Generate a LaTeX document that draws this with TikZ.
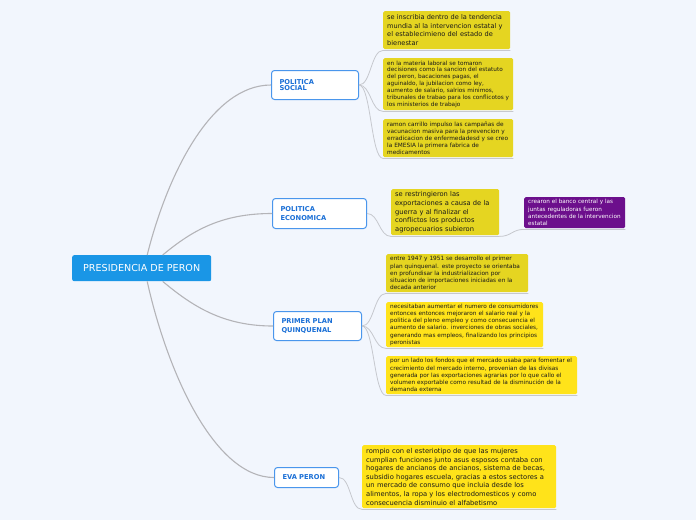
\documentclass[tikz,border=0pt]{standalone}
\usepackage{fontspec}
\setmainfont{DejaVu Sans}
\usetikzlibrary{calc}
\definecolor{bgc}{HTML}{F2F6FD}
\definecolor{rootc}{HTML}{1A96E6}
\definecolor{tborder}{HTML}{4A96EC}
\definecolor{ttext}{HTML}{1A6FD6}
\definecolor{oliveyel}{HTML}{E5D521}
\definecolor{brightyel}{HTML}{FFE31A}
\definecolor{purp}{HTML}{6C0F8C}
\definecolor{linec}{HTML}{B4B4B8}
\definecolor{sublinec}{HTML}{C6C8CE}
\begin{document}
\begin{tikzpicture}[x=1pt,y=-1pt,
  rootbox/.style={fill=rootc, text=white, rounded corners=2pt, anchor=north west,
    minimum width=139pt, minimum height=26pt, inner sep=0pt,
    font=\fontsize{9.6}{11}\selectfont},
  topicbox/.style={draw=tborder, line width=1pt, fill=white, rounded corners=3pt,
    anchor=north west, align=left, inner xsep=8pt, inner ysep=0pt, text=ttext,
    font=\fontsize{6.7}{8.2}\selectfont\bfseries},
  leafbox/.style={fill=oliveyel, rounded corners=1.5pt, anchor=north west, align=left,
    inner xsep=4pt, inner ysep=0pt, text=black!90},
  conn/.style={draw=linec, line width=1.1pt},
  subconn/.style={draw=sublinec, line width=0.8pt}
]
\fill[bgc] (0,0) rectangle (696,520);
\useasboundingbox (0,0) rectangle (696,520);

% root
\node[rootbox] (root) at (72,255) {PRESIDENCIA DE PERON};

% topics
\node[topicbox, minimum width=87pt, minimum height=29pt, text width=71pt] (ps) at (271,70) {POLITICA\\[-1.5pt]SOCIAL};
\node[topicbox, minimum width=94pt, minimum height=30pt, text width=78pt] (pe) at (272,198) {POLITICA\\ECONOMICA};
\node[topicbox, minimum width=88pt, minimum height=29pt, text width=72pt] (pp) at (273,311) {PRIMER PLAN\\QUINQUENAL};
\node[topicbox, minimum width=64pt, minimum height=20pt, text width=48pt] (ev) at (274,467) {EVA PERON};

% leaves - politica social
\node[leafbox, minimum width=127pt, minimum height=38pt, text width=119pt,
  font=\fontsize{6.6}{8.6}\selectfont] (s1) at (383,11)
  {se inscribia dentro de la tendencia\\mundia al la intervencion estatal y\\el establecimieno del estado de\\bienestar};
\node[leafbox, minimum width=130pt, minimum height=52pt, text width=122pt,
  font=\fontsize{5.75}{6.9}\selectfont] (s2) at (383,58)
  {en la materia laboral se tomaron\\decisiones como la sancion del estatuto\\del peron, bacaciones pagas, el\\aguinaldo, la jubilacion como ley,\\aumento de salario, salrios minimos,\\tribunales de trabao para los conflicotos y\\los ministerios de trabajo};
\node[leafbox, minimum width=130pt, minimum height=38pt, text width=122pt,
  font=\fontsize{5.8}{7.1}\selectfont] (s3) at (383,119)
  {ramon carrillo impulso las campañas de\\vacunacion masiva para la prevencion y\\erradicacion de enfermedadesd y se creo\\la EMESIA la primera fabrica de\\medicamentos};

% politica economica
\node[leafbox, minimum width=108pt, minimum height=46pt, text width=100pt,
  font=\fontsize{6.7}{8.9}\selectfont] (e1) at (391,189)
  {se restringieron las\\exportaciones a causa de la\\guerra y al finalizar el\\conflictos los productos\\agropecuarios subieron};
\node[leafbox, fill=purp, text=white, minimum width=101pt, minimum height=31pt, text width=93pt,
  font=\fontsize{5.7}{7.3}\selectfont] (e2) at (524,197)
  {crearon el banco central y las\\juntas reguladoras fueron\\antecedentes de la intervencion\\estatal};

% primer plan
\node[leafbox, minimum width=142pt, minimum height=38pt, text width=134pt,
  font=\fontsize{5.8}{7.2}\selectfont] (p1) at (386,254)
  {entre 1947 y 1951 se desarrollo el primer\\plan quinquenal. este proyecto se orientaba\\en profundisar la industrializacion por\\situacion de importaciones iniciadas en la\\decada anterior};
\node[leafbox, fill=brightyel, minimum width=157pt, minimum height=45pt, text width=149pt,
  font=\fontsize{5.78}{7.3}\selectfont] (p2) at (386,302)
  {necesitaban aumentar el numero de consumidores\\entonces entonces mejoraron el salario real y la\\politica del pleno empleo y como consecuencia el\\aumento de salario. inverciones de obras sociales,\\generando mas empleos, finalizando los principios\\peronistas};
\node[leafbox, fill=brightyel, minimum width=191pt, minimum height=38pt, text width=183pt,
  font=\fontsize{5.78}{7.3}\selectfont] (p3) at (386,356)
  {por un lado los fondos que el mercado usaba para fomentar el\\crecimiento del mercado interno, provenian de las divisas\\generada por las exportaciones agrarias por lo que callo el\\volumen exportable como resultad de la disminución de la\\demanda externa};

% eva
\node[leafbox, fill=brightyel, minimum width=194pt, minimum height=63pt, text width=186pt,
  font=\fontsize{6.75}{8.6}\selectfont] (v1) at (362,445)
  {rompio con el esteriotipo de que las mujeres\\cumplian funciones junto asus esposos contaba con\\hogares de ancianos de ancianos, sistema de becas,\\subsidio hogares escuela, gracias a estos sectores a\\un mercado de consumo que incluia desde los\\alimentos, la ropa y los electrodomesticos y como\\consecuencia disminuio el alfabetismo};

% main connectors
\draw[conn] ($(root.north)+(5.5,0)$) .. controls +(20,-80) and +(-60,0) .. (ps.west);
\draw[conn] ($(root.north)+(21,0)$) .. controls +(30,-25) and +(-50,0) .. (pe.west);
\draw[conn] ($(root.south)+(21,0)$) .. controls +(30,25) and +(-50,0) .. (pp.west);
\draw[conn] ($(root.south)+(5.5,0)$) .. controls +(20,90) and +(-60,0) .. (ev.west);

% sub connectors
\foreach \p/\c in {ps/s1, ps/s2, ps/s3, pe/e1, pp/p1, pp/p2, pp/p3, ev/v1}{
  \draw[subconn] (\p.east) .. controls +(12,0) and +(-12,0) .. ($(\c.south west)+(0,1)$) -- ($(\c.south east)+(0,1)$);
}
\draw[subconn] ($(e1.south east)+(0,1)$) .. controls +(12,0) and +(-12,0) .. ($(e2.south west)+(0,1)$) -- ($(e2.south east)+(0,1)$);
\end{tikzpicture}
\end{document}
